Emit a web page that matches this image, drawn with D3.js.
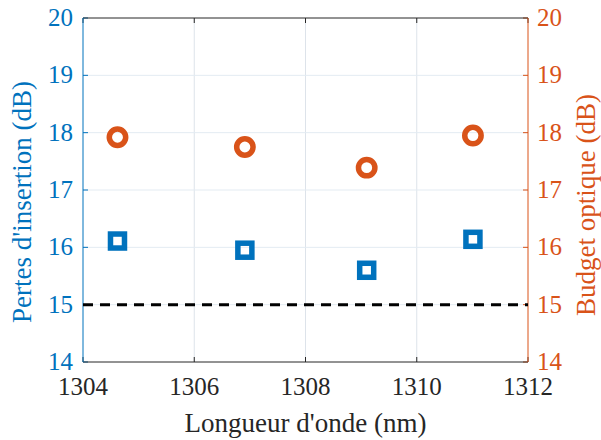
<!DOCTYPE html>
<html>
<head>
<meta charset="utf-8">
<script src="https://cdn.jsdelivr.net/npm/d3@7"></script>
</head>
<body style="margin:0">
<script>
// wavelengths (nm)
var wavelengths = [1304.62, 1306.91, 1309.10, 1311.01];
// insertion losses, left axis (dB)
var pertes = [16.11, 15.95, 15.60, 16.14];
// optical budget, right axis (dB)
var budget = [17.92, 17.75, 17.39, 17.95];
var seuil = 15;
var xTicks = [1304, 1306, 1308, 1310, 1312];
var yTicks = [14, 15, 16, 17, 18, 19, 20];

var svgWidth = 601, svgHeight = 440;
var margin = { top: 18, right: 73, bottom: 78, left: 83 };
var width = svgWidth - margin.left - margin.right;
var height = svgHeight - margin.top - margin.bottom;

var blue = "#0072BD", orange = "#D95319", dark = "#262626";

var root = d3.select("body").append("svg")
    .attr("width", svgWidth)
    .attr("height", svgHeight);
var svg = root.append("g")
    .attr("transform", "translate(" + margin.left + "," + margin.top + ")");

// scales in page coordinates
var x = d3.scaleLinear().domain([1304, 1312]).range([margin.left, margin.left + width]);
var yL = d3.scaleLinear().domain([14, 20]).range([margin.top + height, margin.top]);
var yR = d3.scaleLinear().domain([14, 20]).range([margin.top + height, margin.top]);
var L = margin.left, R = margin.left + width, T = margin.top, B = margin.top + height;

// grid
root.append("g").selectAll("line").data(xTicks.slice(1, -1)).enter().append("line")
    .attr("x1", function(d) { return x(d); }).attr("x2", function(d) { return x(d); })
    .attr("y1", T).attr("y2", B)
    .attr("stroke", "#dde3ea").attr("stroke-width", 1);
root.append("g").selectAll("line").data(yTicks.slice(1, -1)).enter().append("line")
    .attr("y1", function(d) { return yL(d); }).attr("y2", function(d) { return yL(d); })
    .attr("x1", L).attr("x2", R)
    .attr("stroke", "#e3ebf2").attr("stroke-width", 1);

// tick marks (inward)
var tickLen = 5;
var ticks = root.append("g");
ticks.selectAll(".xb").data(xTicks).enter().append("line")
    .attr("x1", function(d) { return x(d); }).attr("x2", function(d) { return x(d); })
    .attr("y1", B).attr("y2", B - tickLen).attr("stroke", dark);
ticks.selectAll(".xt").data(xTicks).enter().append("line")
    .attr("x1", function(d) { return x(d); }).attr("x2", function(d) { return x(d); })
    .attr("y1", T).attr("y2", T + tickLen).attr("stroke", dark);
ticks.selectAll(".yl").data(yTicks).enter().append("line")
    .attr("y1", function(d) { return yL(d); }).attr("y2", function(d) { return yL(d); })
    .attr("x1", L).attr("x2", L + tickLen).attr("stroke", blue);
ticks.selectAll(".yr").data(yTicks).enter().append("line")
    .attr("y1", function(d) { return yR(d); }).attr("y2", function(d) { return yR(d); })
    .attr("x1", R).attr("x2", R - tickLen).attr("stroke", orange);

// frame
root.append("line").attr("x1", L).attr("x2", R).attr("y1", B).attr("y2", B).attr("stroke", dark);
root.append("line").attr("x1", L).attr("x2", R).attr("y1", T).attr("y2", T).attr("stroke", dark);
root.append("line").attr("x1", L).attr("x2", L).attr("y1", T).attr("y2", B).attr("stroke", blue);
root.append("line").attr("x1", R).attr("x2", R).attr("y1", T).attr("y2", B).attr("stroke", orange);

// threshold line
root.append("line")
    .attr("x1", x(1304)).attr("x2", x(1312))
    .attr("y1", yL(seuil)).attr("y2", yL(seuil))
    .attr("stroke", "#000").attr("stroke-width", 3)
    .attr("stroke-dasharray", "10,7");

// insertion losses (squares)
var side = 14;
root.append("g").selectAll("rect").data(wavelengths).enter().append("rect")
    .attr("x", function(d) { return x(d) - side / 2; })
    .attr("y", function(d, i) { return yL(pertes[i]) - side / 2; })
    .attr("width", side).attr("height", side)
    .attr("fill", "none").attr("stroke", blue).attr("stroke-width", 5.5);

// optical budget (circles)
root.append("g").selectAll("circle").data(wavelengths).enter().append("circle")
    .attr("cx", function(d) { return x(d); })
    .attr("cy", function(d, i) { return yR(budget[i]); })
    .attr("r", 8.2)
    .attr("fill", "none").attr("stroke", orange).attr("stroke-width", 5.5);

// tick labels, directly on the svg root
root.selectAll(".xlab").data(xTicks).enter().append("text")
    .attr("x", function(d) { return x(d); }).attr("y", B + 33)
    .attr("font-family", "Liberation Serif")
    .attr("text-anchor", "middle").attr("font-size", "25px").attr("fill", dark)
    .text(function(d) { return d; });
root.selectAll(".ylab").data(yTicks).enter().append("text")
    .attr("x", L - 10).attr("y", function(d) { return yL(d) + 8; })
    .attr("font-family", "Liberation Serif")
    .attr("text-anchor", "end").attr("font-size", "25px").attr("fill", blue)
    .text(function(d) { return d; });
root.selectAll(".yrlab").data(yTicks).enter().append("text")
    .attr("x", R + 9).attr("y", function(d) { return yR(d) + 8; })
    .attr("font-family", "Liberation Serif")
    .attr("text-anchor", "start").attr("font-size", "25px").attr("fill", orange)
    .text(function(d) { return d; });

// axis titles
root.append("text")
    .attr("x", (L + R) / 2).attr("y", B + 70)
    .attr("font-family", "Liberation Serif")
    .attr("text-anchor", "middle").attr("font-size", "27px").attr("fill", dark)
    .text("Longueur d'onde (nm)");
root.append("text")
    .attr("transform", "translate(" + (L - 52) + "," + ((T + B) / 2 + 12) + ") rotate(-90)")
    .attr("font-family", "Liberation Serif")
    .attr("text-anchor", "middle").attr("font-size", "27px").attr("fill", blue)
    .text("Pertes d'insertion (dB)");
root.append("text")
    .attr("transform", "translate(" + (R + 67) + "," + ((T + B) / 2 + 15) + ") rotate(-90)")
    .attr("font-family", "Liberation Serif")
    .attr("text-anchor", "middle").attr("font-size", "27px").attr("fill", orange)
    .text("Budget optique (dB)");
</script>
</body>
</html>
